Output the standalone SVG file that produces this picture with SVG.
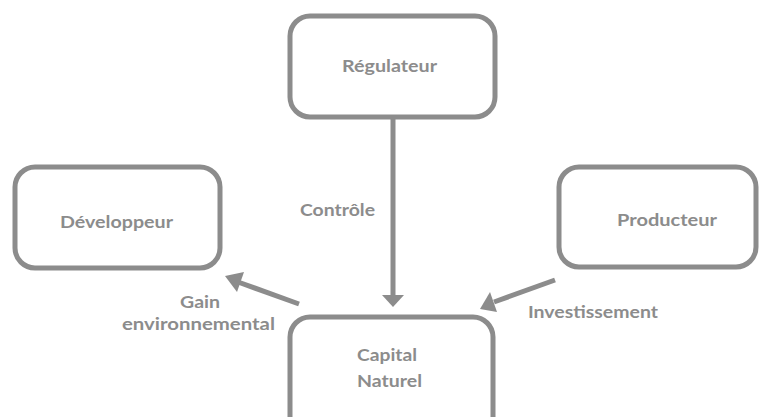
<svg xmlns="http://www.w3.org/2000/svg" width="759" height="417" viewBox="0 0 759 417">
<style>
.box{fill:#fff;stroke:#8c8c8c;stroke-width:5}
.t{font-family:Lato,"Open Sans","Liberation Sans",sans-serif;font-weight:bold;font-size:17px;fill:#8c8c8c}
.c{stroke:#8c8c8c;stroke-width:5;fill:none}
.h{fill:#8c8c8c}
</style>
<rect width="759" height="417" fill="#fff"/>
<g id="regulateur"><rect class="box" x="290" y="16" width="205" height="101" rx="20"/><text class="t" x="342" y="72" textLength="95" lengthAdjust="spacingAndGlyphs">Régulateur</text></g>
<g id="developpeur"><rect class="box" x="15" y="167" width="205" height="101" rx="20"/><text class="t" x="60" y="228" textLength="113" lengthAdjust="spacingAndGlyphs">Développeur</text></g>
<g id="producteur"><rect class="box" x="559" y="167" width="197" height="100" rx="20"/><text class="t" x="617" y="226" textLength="100" lengthAdjust="spacingAndGlyphs">Producteur</text></g>
<g id="capital"><rect class="box" x="290" y="317" width="203" height="120" rx="20"/><text class="t" x="357" y="361" textLength="60" lengthAdjust="spacingAndGlyphs">Capital</text><text class="t" x="357" y="387" textLength="65" lengthAdjust="spacingAndGlyphs">Naturel</text></g>
<g id="connectors">
<line class="c" x1="393" y1="118" x2="393" y2="296"/>
<polygon class="h" points="382,295 404,295 393,307"/>
<line class="c" x1="299" y1="304" x2="238" y2="282"/>
<polygon class="h" points="225,276 244,272 237,292"/>
<line class="c" x1="555" y1="280" x2="494" y2="302"/>
<polygon class="h" points="480,309 490,292 497,312"/>
</g>
<g id="labels">
<text class="t" x="300" y="216" textLength="75" lengthAdjust="spacingAndGlyphs">Contrôle</text>
<text class="t" x="180" y="308" textLength="40" lengthAdjust="spacingAndGlyphs">Gain</text>
<text class="t" x="122" y="330" textLength="153" lengthAdjust="spacingAndGlyphs">environnemental</text>
<text class="t" x="528" y="318" textLength="130" lengthAdjust="spacingAndGlyphs">Investissement</text>
</g>
</svg>
